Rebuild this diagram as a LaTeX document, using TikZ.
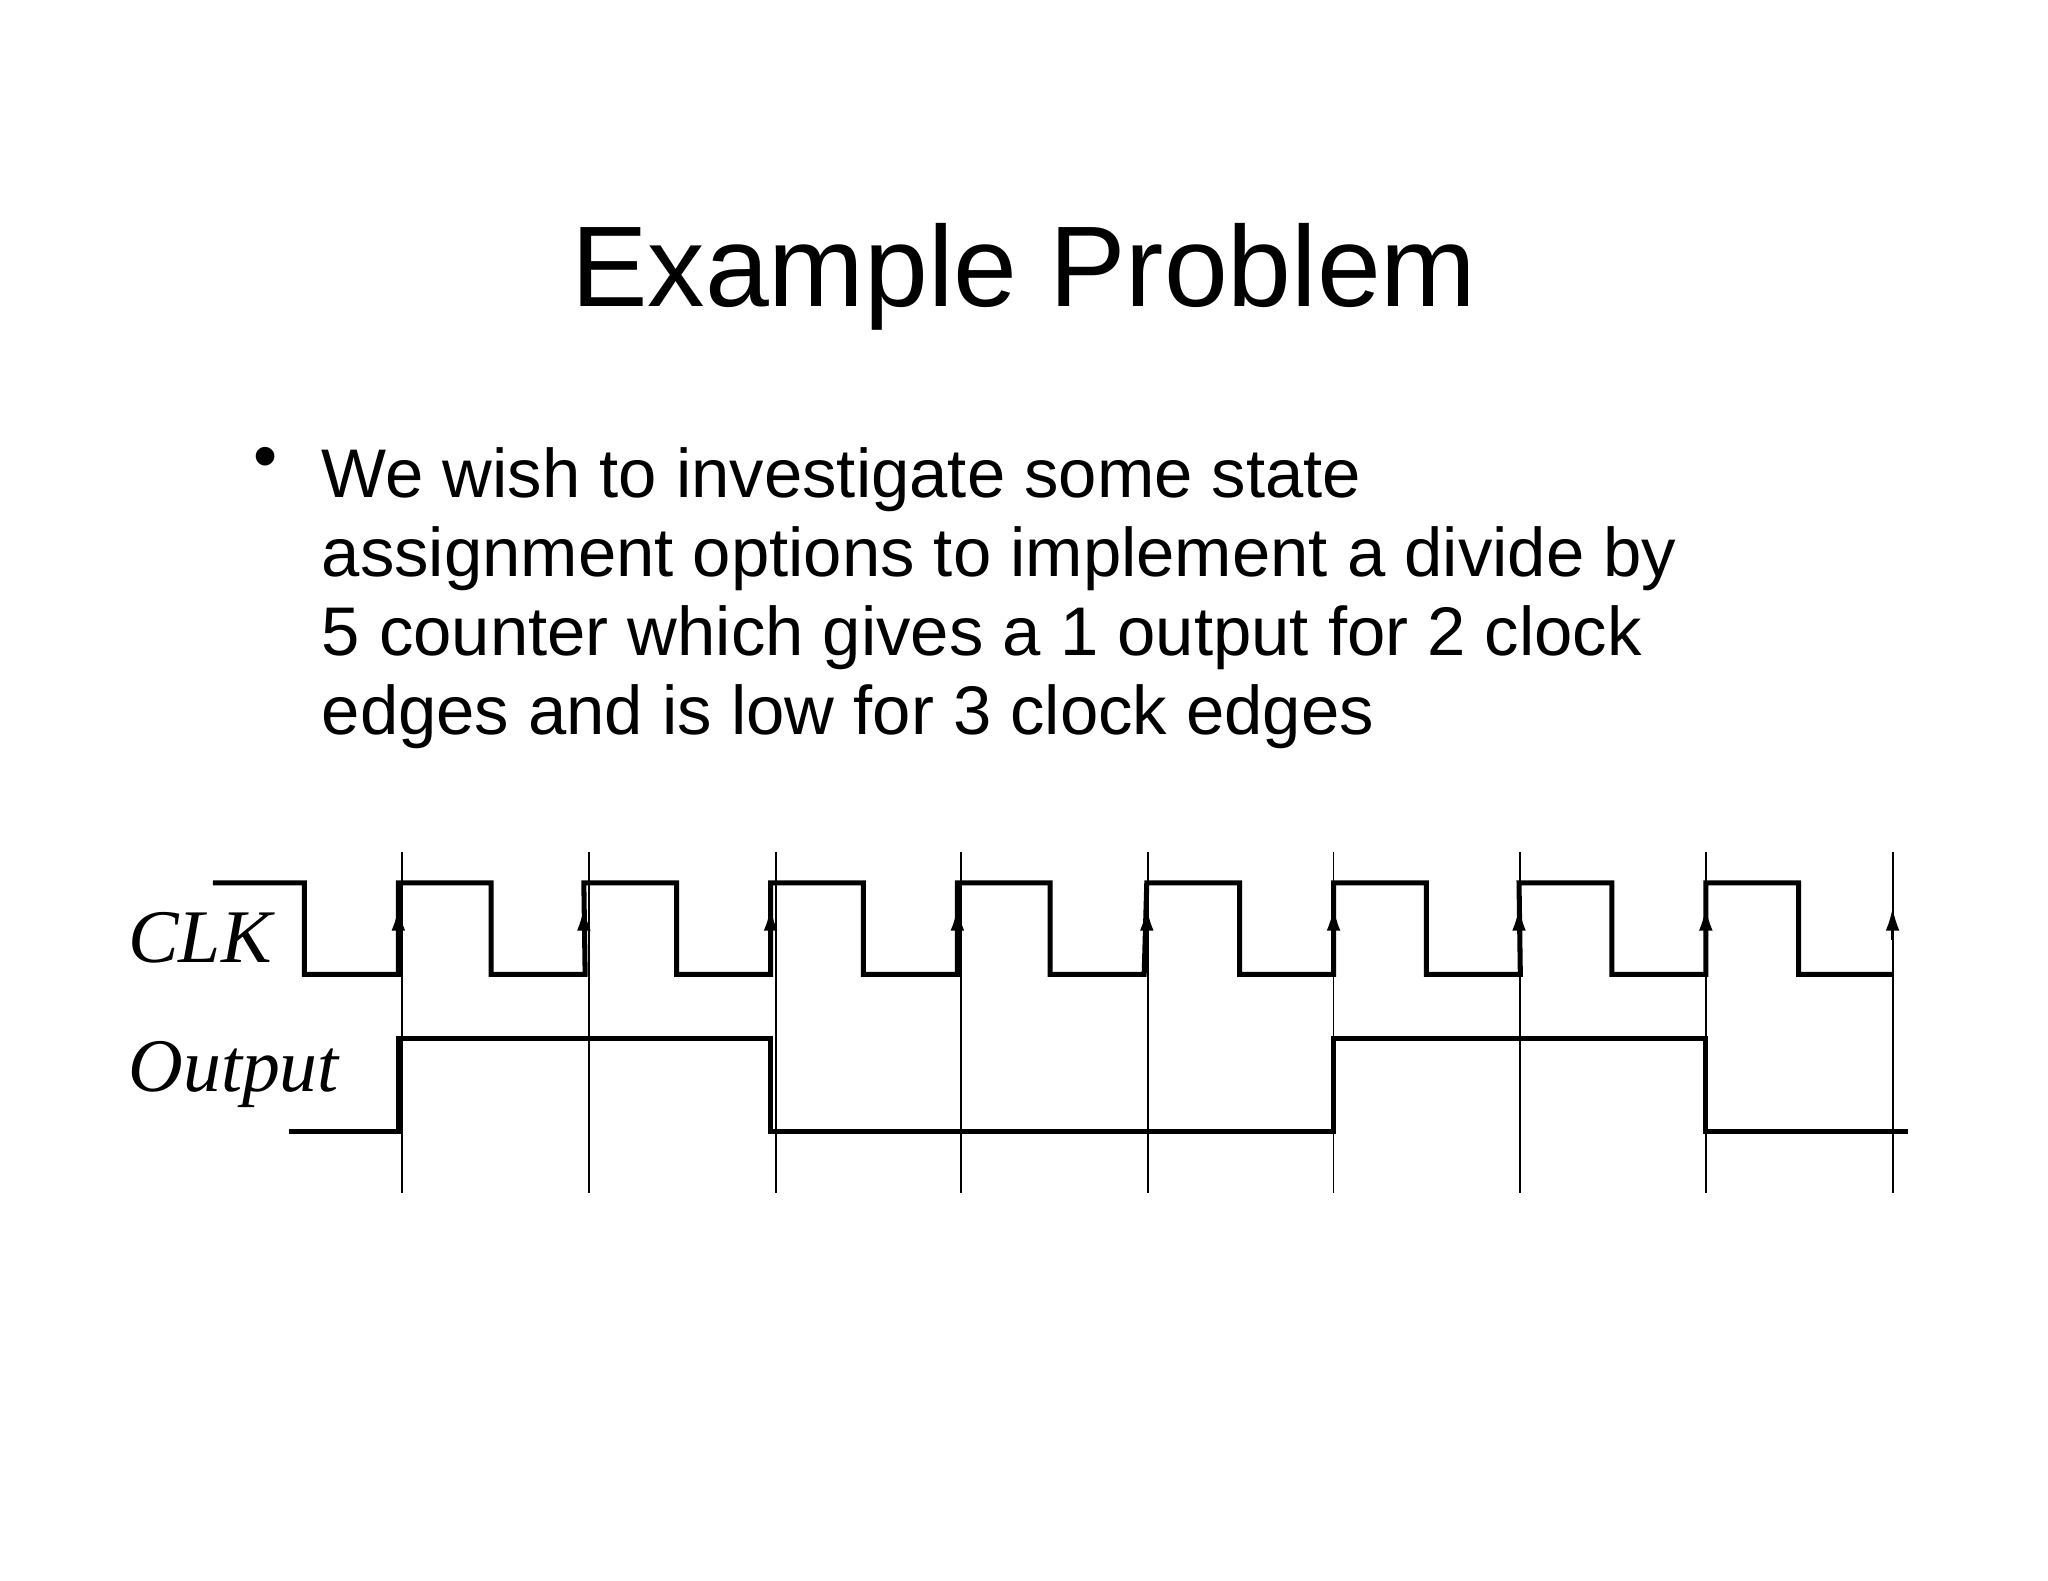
\documentclass[tikz,border=0pt]{standalone}
\usepackage{fontspec}
\setmainfont{Liberation Sans}
\newfontfamily\tms{Liberation Serif}
\usetikzlibrary{arrows.meta}
\begin{document}
\begin{tikzpicture}[x=0.02cm,y=-0.02cm,
  wave/.style={line width=2.2pt},
  guide/.style={line width=0.8pt},
  sig/.style={font=\tms\itshape\fontsize{33}{36}\selectfont,anchor=west,inner sep=0}]
\useasboundingbox[fill=white] (0,0) rectangle (1568,1210);
\node[font=\fontsize{50}{56}\selectfont,anchor=center] (title) at (784,212) {Example Problem};
\node[anchor=north west,align=left,inner sep=0,font=\fontsize{30}{34.5}\selectfont] (body) at (246,342)
 {We wish to investigate some state\\assignment options to implement a divide by\\5 counter which gives a 1 output for 2 clock\\edges and is low for 3 clock edges};
\node[anchor=north west,inner sep=0,font=\fontsize{30}{34.5}\selectfont] (bul) at (194,342) {•};
\node[sig] (clk) at (98,718) {CLK};
\node[sig] (out) at (98,823) {Output};
\foreach \x in {308,451,594,736,879,1021,1164,1306,1449}
  \draw[guide] (\x,652) -- (\x,913);
\draw[wave] (163,676) -- (233,676) -- (233,746) -- (305,746)
  \foreach \r in {305,447,590,733,878,1021,1163,1306} {
    -- (\r,676) -- ({\r+71},676) -- ({\r+71},746) -- ({\r+143},746)}
  -- (1449,746);
\foreach \r in {305,447,590,733,878,1021,1163,1306,1449}
  \draw[line width=1pt,-{Latex[length=10pt,width=6pt]}] (\r,720) -- (\r,695);
\draw[wave] (221,866) -- (305,866) -- (305,795) -- (590,795) -- (590,866) -- (1021,866)
  -- (1021,795) -- (1306,795) -- (1306,866) -- (1461,866);
\end{tikzpicture}
\end{document}
